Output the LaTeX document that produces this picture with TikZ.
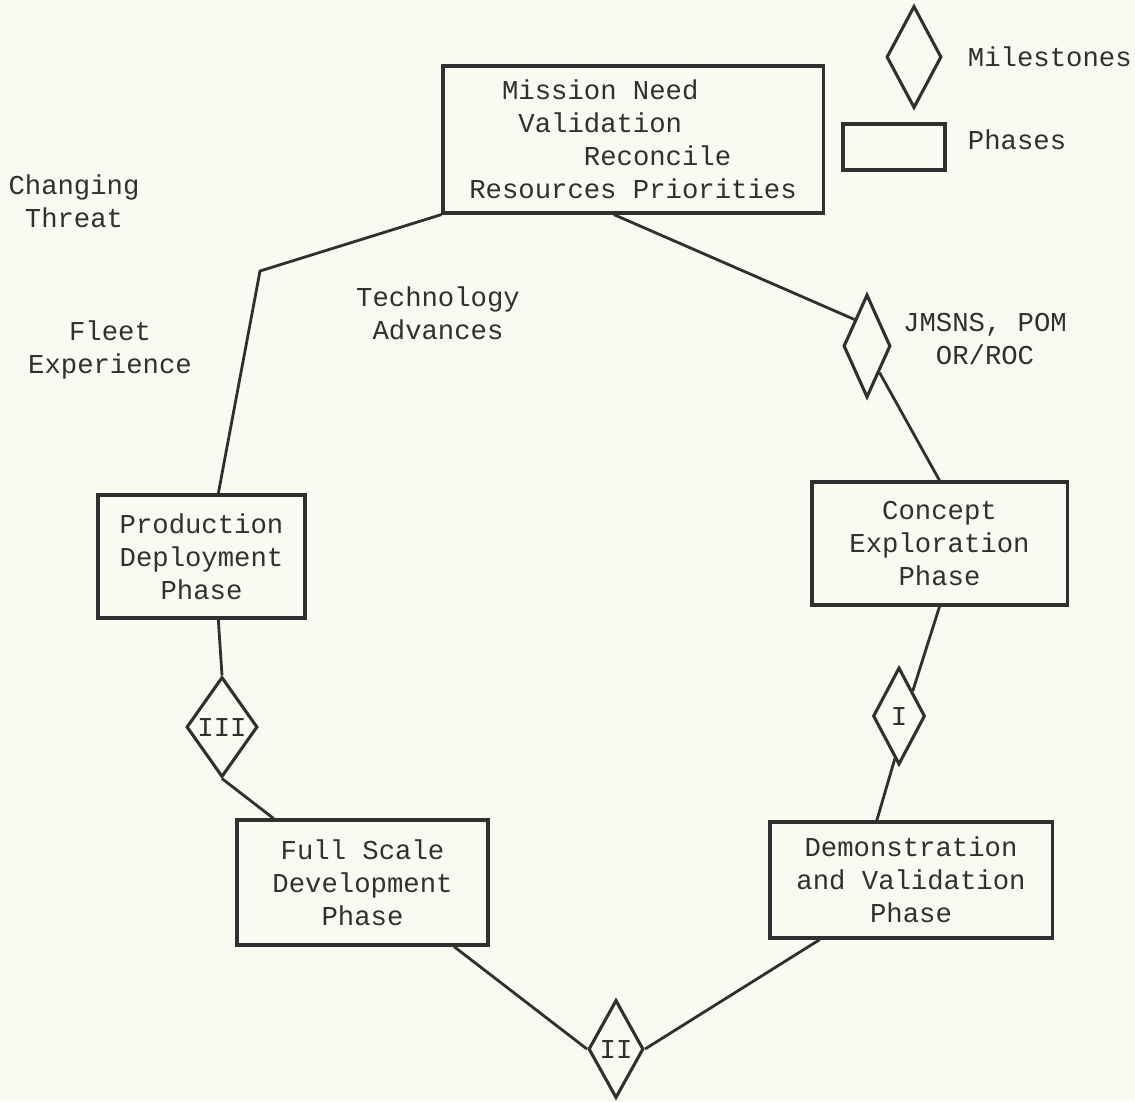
\documentclass[tikz,border=0pt]{standalone}
\usepackage{fontspec}
\setmainfont{Liberation Mono}
\usepackage{tikz}
\usetikzlibrary{calc,shapes.geometric}
\definecolor{paperCream}{RGB}{250,250,243}
\definecolor{inkDark}{RGB}{48,48,48}
\tikzset{
  phase box/.style={draw=inkDark,line width=2.2pt,rectangle,align=center,text=inkDark,font=\fontsize{19.4}{23.5}\selectfont,inner sep=0pt},
  milestone/.style={draw=inkDark,line width=2.2pt,diamond,inner sep=0pt,text=inkDark,font=\fontsize{19.4}{23.5}\selectfont},
  free text/.style={align=center,text=inkDark,font=\fontsize{19.4}{23.5}\selectfont},
  cycle line/.style={draw=inkDark,line width=2pt}
}
\begin{document}
\begin{tikzpicture}[x=0.025cm,y=-0.025cm]
        \fill[paperCream] (0,0) rectangle (1135,1101);
        \useasboundingbox (0,0) rectangle (1135,1101);
        \node[phase box,minimum width=9.5cm,minimum height=3.675cm,align=left] (mission) at (633,139.5) {\phantom{MM}Mission Need\\\phantom{MMM}Validation\\\phantom{MMMMMMM}Reconcile\\Resources Priorities};
        \node[phase box,minimum width=5.175cm,minimum height=3.075cm] (production) at (201.5,556.5) {Production\\Deployment\\Phase};
        \node[phase box,minimum width=6.375cm,minimum height=3.075cm] (concept) at (939.5,543.5) {Concept\\Exploration\\Phase};
        \node[phase box,minimum width=7.05cm,minimum height=2.9cm] (demval) at (911,880) {Demonstration\\and Validation\\Phase};
        \node[phase box,minimum width=6.275cm,minimum height=3.125cm] (fullscale) at (362.5,882.5) {Full Scale\\Development\\Phase};
        \node[milestone,minimum width=1.175cm,minimum height=2.575cm] (jmsns) at (867,346) {};
        \node[milestone,minimum width=1.3cm,minimum height=2.425cm] (msI) at (899,716) {I};
        \node[milestone,minimum width=1.375cm,minimum height=2.45cm] (msII) at (616,1049) {II};
        \node[milestone,minimum width=1.775cm,minimum height=2.5cm] (msIII) at (222,727) {III};
        \node[milestone,minimum width=1.375cm,minimum height=2.55cm] (keydiamond) at (914,57) {};
        \node[phase box,minimum width=2.55cm,minimum height=1.15cm] (keybox) at (894,147) {};
        \node[free text,anchor=west] (keymilestones) at (963,57) {Milestones};
        \node[free text,anchor=west] (keyphases) at (963,140) {Phases};
        \node[free text] (jmsnstext) at (985,339) {JMSNS, POM\\OR/ROC};
        \node[free text] (threat) at (74,201) {Changing\\Threat};
        \node[free text] (fleet) at (110,350) {Fleet\\Experience};
        \node[free text] (technology) at (438,313) {Technology\\Advances};
        \coordinate (bend) at (260,271);
        \draw[cycle line] ($(mission.south west)!0.45!(mission.south east)$) -- (jmsns.north west);
        \draw[cycle line] (jmsns.south east) -- (concept.north);
        \draw[cycle line] (concept.south) -- (msI.north east);
        \draw[cycle line] ($(msI.south)!0.15!(msI.west)$) -- ($(demval.north west)!0.38!(demval.north east)$);
        \draw[cycle line] ($(demval.south west)!0.18!(demval.south east)$) -- (msII.east);
        \draw[cycle line] ($(fullscale.south west)!0.86!(fullscale.south east)$) -- (msII.west);
        \draw[cycle line] (msIII.south) -- ($(fullscale.north west)!0.15!(fullscale.north east)$);
        \draw[cycle line] ($(production.south west)!0.58!(production.south east)$) -- (msIII.north);
        \draw[cycle line] ($(production.north west)!0.58!(production.north east)$) -- (bend) -- (mission.south west);
      \end{tikzpicture}
\end{document}
